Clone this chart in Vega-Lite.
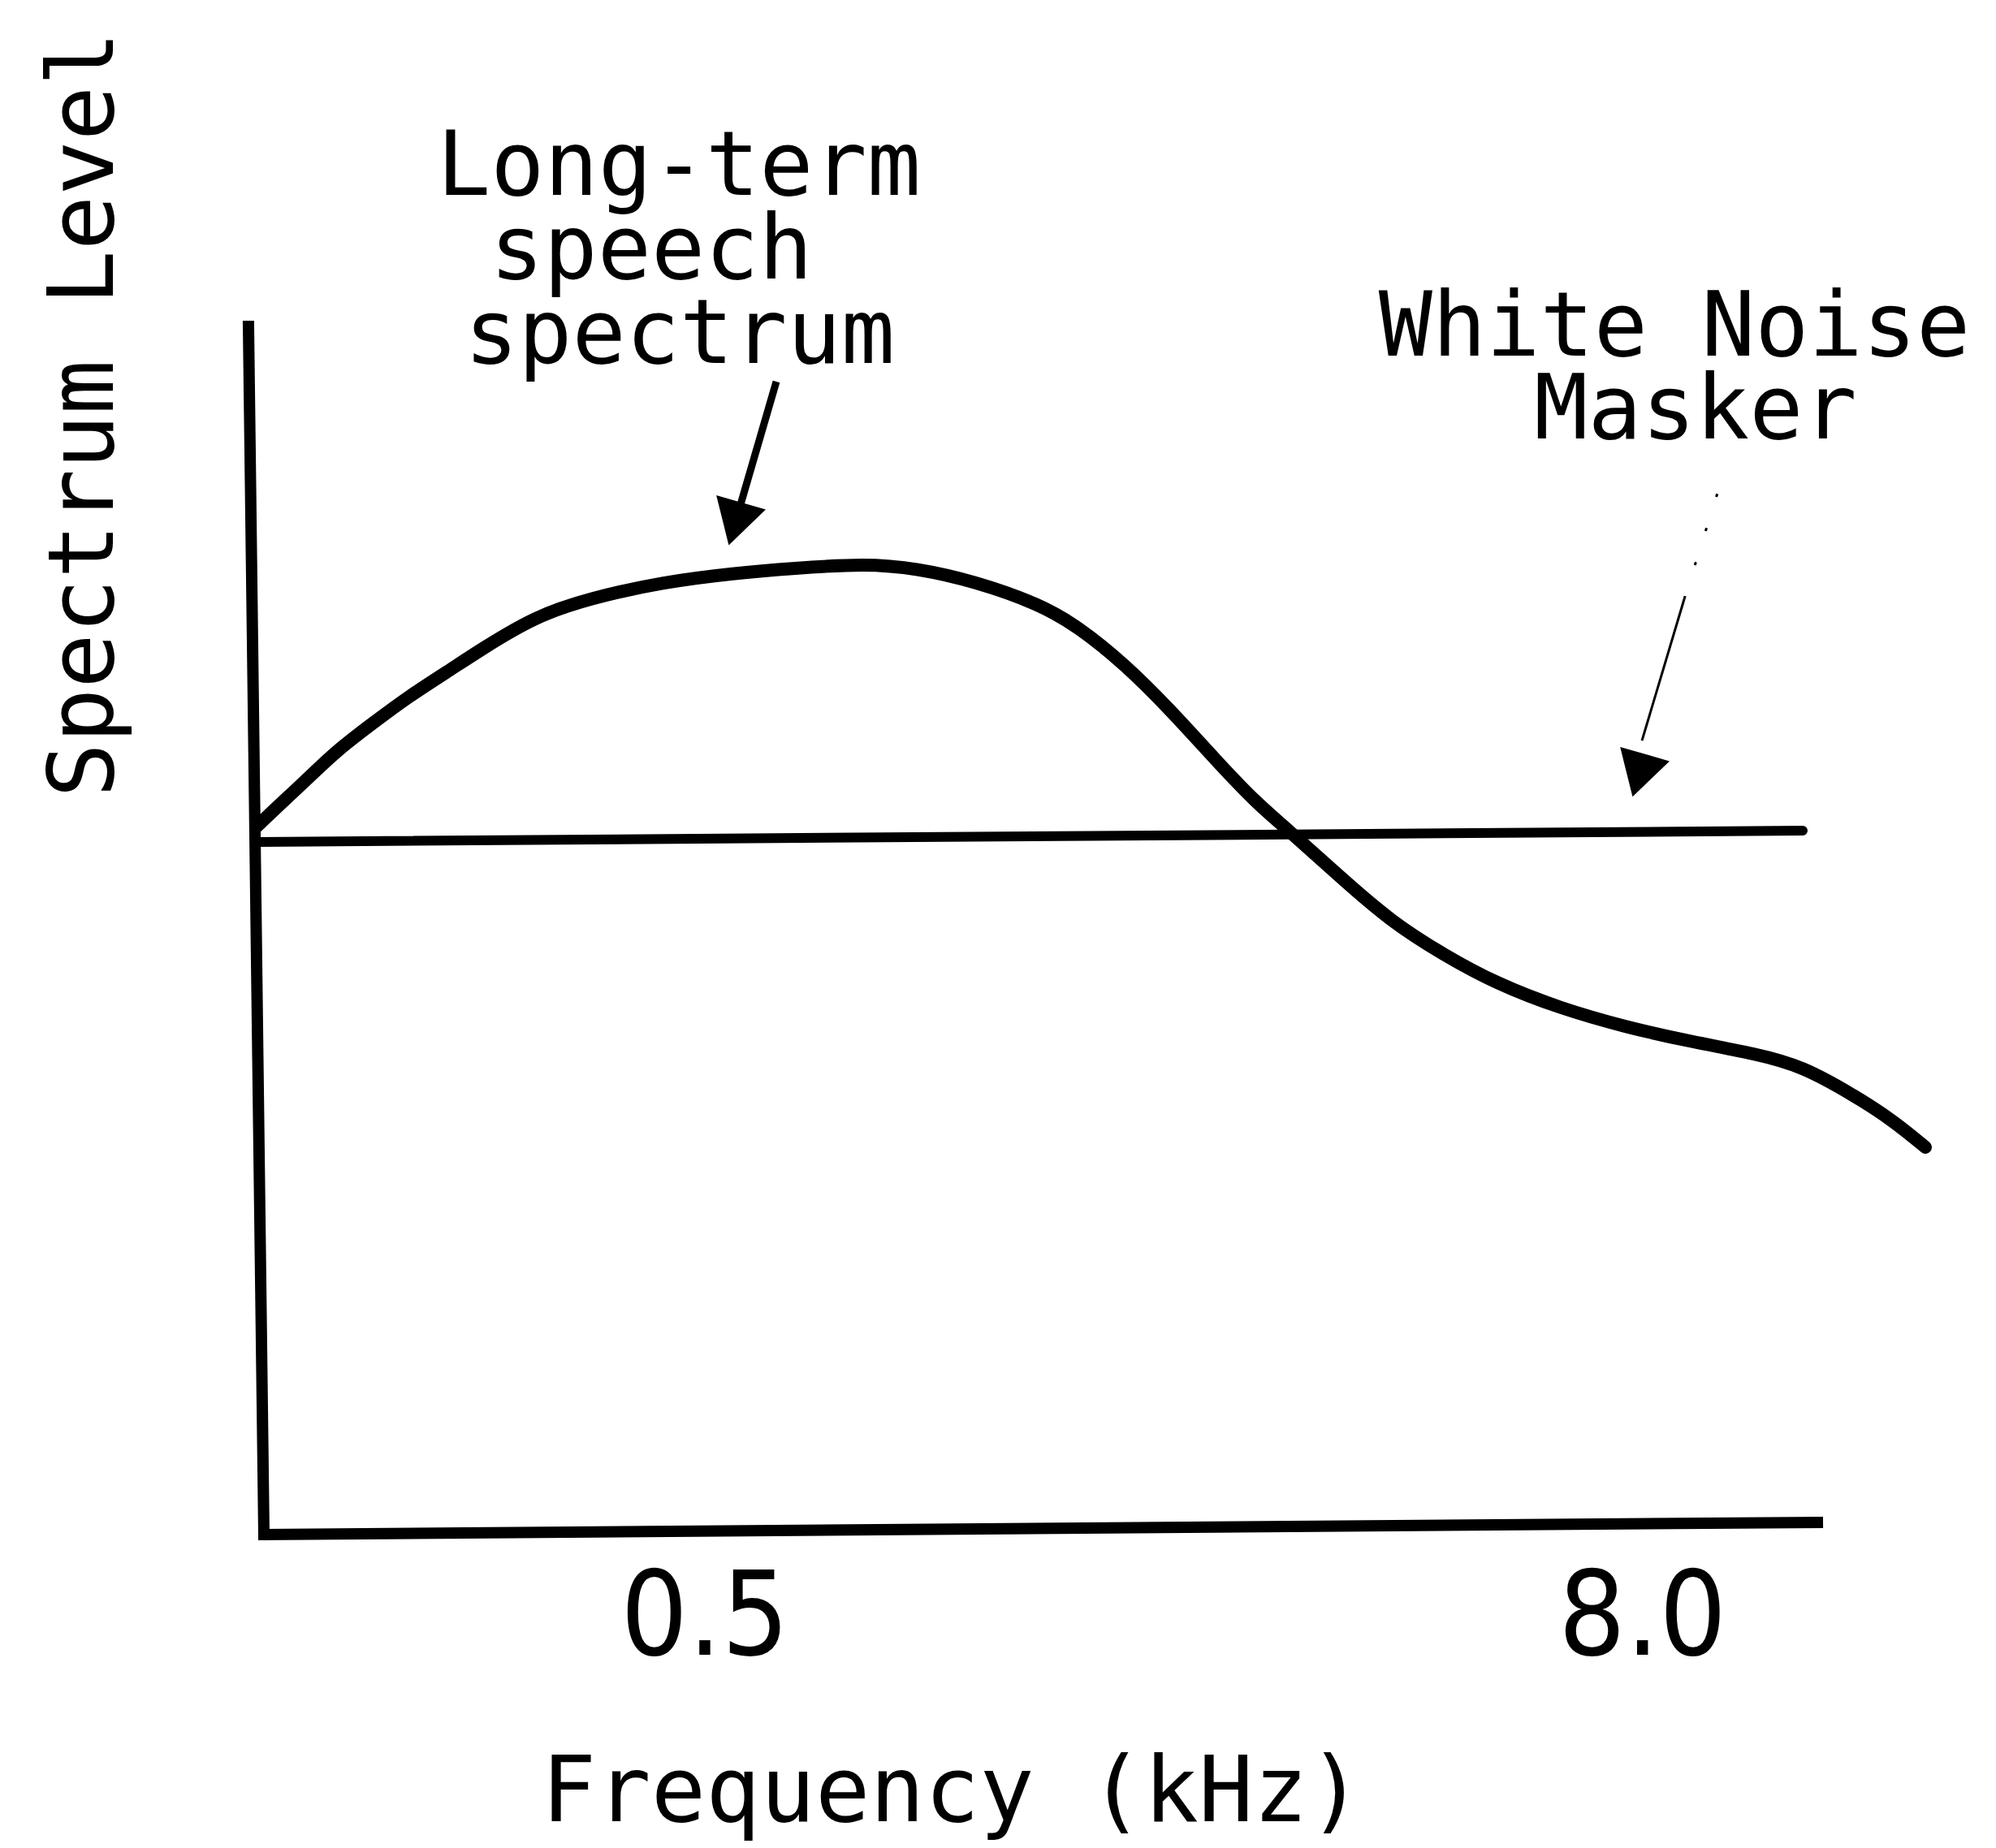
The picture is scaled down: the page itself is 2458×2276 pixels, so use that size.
{
  "$schema": "https://vega.github.io/schema/vega-lite/v6.json",
  "width": 1940,
  "height": 1490,
  "autosize": {"type": "none"},
  "padding": {"left": 300, "top": 400, "right": 218, "bottom": 386},
  "background": "white",
  "config": {
    "view": {"stroke": null},
    "axis": {"grid": false, "domain": false, "ticks": false}
  },
  "datasets": {
    "speech": [
      {"f": 0.1327, "level": 35.07},
      {"f": 0.1409, "level": 36.04},
      {"f": 0.15511, "level": 37.53},
      {"f": 0.16831, "level": 38.86},
      {"f": 0.18796, "level": 40.27},
      {"f": 0.20841, "level": 41.56},
      {"f": 0.23331, "level": 42.77},
      {"f": 0.25806, "level": 43.89},
      {"f": 0.3031, "level": 45.54},
      {"f": 0.35602, "level": 46.43},
      {"f": 0.44191, "level": 47.24},
      {"f": 0.54718, "level": 47.68},
      {"f": 0.6489, "level": 47.92},
      {"f": 0.80545, "level": 48.16},
      {"f": 0.937, "level": 47.92},
      {"f": 1.11116, "level": 47.28},
      {"f": 1.34651, "level": 46.15},
      {"f": 1.51101, "level": 45.02},
      {"f": 1.73267, "level": 43.17},
      {"f": 1.98202, "level": 40.91},
      {"f": 2.26728, "level": 38.42},
      {"f": 2.54426, "level": 36.36},
      {"f": 2.85516, "level": 34.71},
      {"f": 3.26602, "level": 32.66},
      {"f": 3.80859, "level": 30.4},
      {"f": 4.4519, "level": 28.75},
      {"f": 5.1914, "level": 27.34},
      {"f": 6.29101, "level": 26.09},
      {"f": 7.6234, "level": 25.17},
      {"f": 9.26016, "level": 24.44},
      {"f": 11.2216, "level": 23.84},
      {"f": 12.8365, "level": 23.24},
      {"f": 14.969, "level": 21.79},
      {"f": 16.798, "level": 20.54},
      {"f": 18.491, "level": 19.21}
    ],
    "axes": [
      {"s": "y", "f": 0.12986, "level": 59.92},
      {"s": "y", "f": 0.13592, "level": 0},
      {"s": "x", "f": 0.13592, "level": 0},
      {"s": "x", "f": 13.436, "level": 0.604}
    ],
    "noise": [
      {"f": 0.13365, "level": 34.35},
      {"f": 12.867, "level": 34.91}
    ],
    "speechPointer": [
      {"f": 0.61848, "level": 57.18},
      {"f": 0.55114, "level": 50.54}
    ],
    "noisePointer": [
      {"f": 9.0621, "level": 46.39},
      {"f": 7.9985, "level": 39.38}
    ],
    "noisePointerFaint": [
      {"f": 10.169, "level": 52.55},
      {"f": 9.0621, "level": 46.39}
    ],
    "heads": [
      {"f": 0.54718, "level": 50.13},
      {"f": 7.922, "level": 37.65}
    ],
    "labels": [
      {"t": "Long-term", "f": 0.46364, "level": 66.44},
      {"t": "speech", "f": 0.4273, "level": 62.3},
      {"t": "spectrum", "f": 0.46476, "level": 58.11},
      {"t": "White Noise", "f": 8.8048, "level": 58.47},
      {"t": "Masker", "f": 9.372, "level": 54.36}
    ]
  },
  "encoding": {
    "x": {
      "field": "f",
      "type": "quantitative",
      "scale": {"type": "log", "domain": [0.128, 13.5], "nice": false},
      "axis": {
        "values": [0.5, 8],
        "format": ".1f",
        "labelFont": "Liberation Sans Narrow, DejaVu Sans Condensed, DejaVu Sans",
        "labelFontSize": 145,
        "labelColor": "black",
        "labelBaseline": "alphabetic",
        "labelPadding": 147,
        "labelLimit": 0,
        "labelFlush": false,
        "labelOverlap": false,
        "title": "Frequency (kHz)",
        "titleFont": "DejaVu Sans Mono",
        "titleFontSize": 112,
        "titleFontWeight": "normal",
        "titleColor": "black",
        "titleX": 872,
        "titleY": 352,
        "titleBaseline": "alphabetic",
        "titleAlign": "center",
        "titleLimit": 0
      }
    },
    "y": {
      "field": "level",
      "type": "quantitative",
      "scale": {"domain": [0, 60], "nice": false, "zero": false},
      "axis": {
        "labels": false,
        "title": "Spectrum Level",
        "titleFont": "DejaVu Sans Mono",
        "titleFontSize": 112,
        "titleFontWeight": "normal",
        "titleColor": "black",
        "titleX": -162,
        "titleY": 110,
        "titleAngle": 270,
        "titleBaseline": "alphabetic",
        "titleAlign": "center",
        "titleLimit": 0
      }
    }
  },
  "layer": [
    {
      "data": {"name": "axes"},
      "mark": {"type": "line", "color": "black", "strokeWidth": 14, "strokeCap": "square"},
      "encoding": {"detail": {"field": "s", "type": "nominal"}}
    },
    {
      "data": {"name": "noise"},
      "mark": {"type": "line", "color": "black", "strokeWidth": 12, "strokeCap": "round"},
      "encoding": {}
    },
    {
      "data": {"name": "speech"},
      "mark": {"type": "line", "color": "black", "strokeWidth": 16, "interpolate": "basis", "strokeCap": "round"},
      "encoding": {}
    },
    {
      "data": {"name": "speechPointer"},
      "mark": {"type": "line", "color": "black", "strokeWidth": 9},
      "encoding": {}
    },
    {
      "data": {"name": "noisePointer"},
      "mark": {"type": "line", "color": "black", "strokeWidth": 3},
      "encoding": {}
    },
    {
      "data": {"name": "noisePointerFaint"},
      "mark": {"type": "line", "color": "black", "strokeWidth": 3, "strokeDash": [4, 40]},
      "encoding": {}
    },
    {
      "data": {"name": "heads"},
      "mark": {"type": "point", "shape": "triangle-down", "filled": true, "angle": 16, "size": 4000, "color": "black", "opacity": 1}
    },
    {
      "data": {"name": "labels"},
      "mark": {"type": "text", "font": "DejaVu Sans Mono", "fontSize": 110, "align": "center", "baseline": "alphabetic", "color": "black"},
      "encoding": {"text": {"field": "t", "type": "nominal"}}
    }
  ]
}
